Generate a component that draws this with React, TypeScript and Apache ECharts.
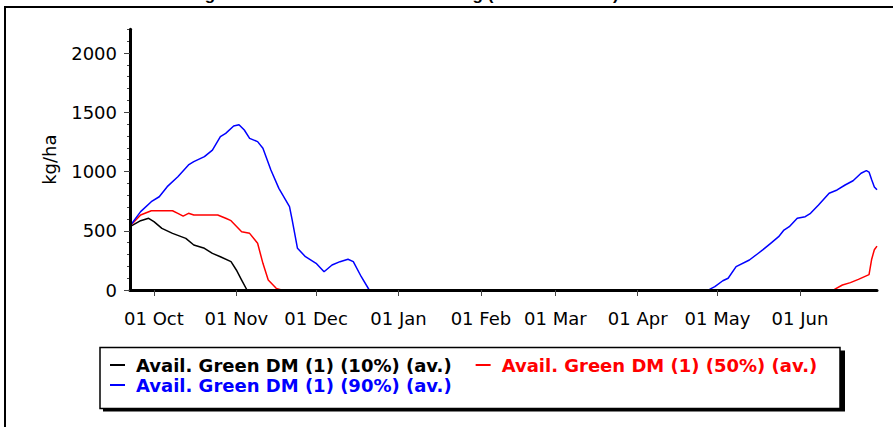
import React, { useEffect, useRef } from "react";
import * as echarts from "echarts";

// Season runs 22 Sep 2001 -> 30 Jun 2002
const SEASON_START = Date.UTC(2001, 8, 22);
function dayOf(md: string): number {
  const [m, d] = md.split("-").map(Number);
  const y = m >= 9 ? 2001 : 2002;
  return (Date.UTC(y, m - 1, d) - SEASON_START) / 86400000;
}

const titleText = "Average Green DM Available for Grazing (Selected Years)";
const yAxisName = "kg/ha";

const monthTickDates = ["10-01", "11-01", "12-01", "01-01", "02-01", "03-01", "04-01", "05-01", "06-01"];
const monthTickLabels = ["01 Oct", "01 Nov", "01 Dec", "01 Jan", "01 Feb", "01 Mar", "01 Apr", "01 May", "01 Jun"];
const yLabelValues = [0, 500, 1000, 1500, 2000];

const seriesNames = [
  "Avail. Green DM (1) (10%) (av.)",
  "Avail. Green DM (1) (50%) (av.)",
  "Avail. Green DM (1) (90%) (av.)",
];
const seriesColors = ["#000000", "#ff0000", "#0000ff"];

// 10% percentile
const p10Dates = ["09-22", "09-26", "09-29", "10-01", "10-04", "10-08", "10-13", "10-16", "10-20", "10-23", "10-26", "10-30", "11-01", "11-03", "11-05", "06-30"];
const p10Values = [534, 585, 605, 577, 520, 478, 436, 380, 352, 309, 281, 239, 169, 84, 0, 0];

// 50% percentile
const p50Dates = ["09-22", "09-26", "09-30", "10-08", "10-10", "10-12", "10-14", "10-16", "10-25", "10-28", "10-30", "11-03", "11-06", "11-09", "11-11", "11-13", "11-16", "11-18", "06-13", "06-14", "06-17", "06-20", "06-23", "06-27", "06-28", "06-29", "06-30"];
const p50Values = [540, 633, 669, 669, 647, 624, 647, 633, 633, 605, 585, 492, 478, 394, 225, 84, 14, 0, 0, 5, 42, 62, 90, 130, 260, 340, 370];

// 90% percentile
const p90Dates = ["09-22", "09-26", "09-30", "10-03", "10-06", "10-10", "10-14", "10-16", "10-20", "10-23", "10-26", "10-28", "10-31", "11-02", "11-04", "11-06", "11-09", "11-11", "11-14", "11-17", "11-21", "11-22", "11-24", "11-27", "12-01", "12-04", "12-07", "12-10", "12-13", "12-15", "12-18", "12-21", "04-27", "04-28", "04-30", "05-03", "05-05", "05-08", "05-13", "05-16", "05-18", "05-21", "05-24", "05-26", "05-28", "05-31", "06-03", "06-05", "06-08", "06-12", "06-15", "06-18", "06-21", "06-24", "06-26", "06-27", "06-28", "06-29", "06-30"];
const p90Values = [540, 661, 745, 787, 872, 956, 1055, 1083, 1125, 1181, 1294, 1322, 1384, 1395, 1350, 1280, 1252, 1196, 1013, 858, 703, 591, 352, 281, 225, 154, 211, 239, 259, 239, 112, 0, 0, 5, 28, 78, 99, 197, 253, 304, 338, 394, 450, 506, 534, 605, 619, 647, 717, 816, 844, 886, 922, 985, 1007, 995, 930, 870, 845];

function pairs(dates: string[], values: number[]) {
  return dates.map((d, i) => [dayOf(d), values[i]]);
}

const FONT = "DejaVu Sans";

export default function App() {
  const ref = useRef<HTMLDivElement>(null);
  useEffect(() => {
    if (!ref.current) return;
    const chart = echarts.init(ref.current, null, { renderer: "svg" });
    const tickDays = monthTickDates.map(dayOf);
    const seriesData = [pairs(p10Dates, p10Values), pairs(p50Dates, p50Values), pairs(p90Dates, p90Values)];
    chart.setOption({
      animation: false,
      backgroundColor: "#ffffff",
      grid: { left: 130, right: 16, top: 29.3, bottom: 137 },
      xAxis: {
        type: "value",
        min: 0,
        max: dayOf("06-30"),
        z: 10,
        axisLine: { lineStyle: { color: "#000", width: 3 } },
        axisTick: { customValues: tickDays, length: 6, lineStyle: { color: "#444", width: 1 } },
        axisLabel: {
          customValues: tickDays,
          formatter: (v: number) => {
            const i = tickDays.findIndex((t) => Math.abs(t - v) < 0.01);
            return i >= 0 ? monthTickLabels[i] : "";
          },
          fontFamily: FONT,
          fontSize: 18,
          color: "#000",
          margin: 19,
        },
        splitLine: { show: false },
      },
      yAxis: [
        {
          type: "value",
          position: "left",
          min: 0,
          max: 2200,
          z: 10,
          name: yAxisName,
          nameLocation: "middle",
          nameGap: 72,
          nameTextStyle: { fontFamily: FONT, fontSize: 18, color: "#000" },
          axisLine: { show: true, lineStyle: { color: "#000", width: 3 } },
          axisTick: { customValues: yLabelValues, length: 6, lineStyle: { color: "#444", width: 1 } },
          axisLabel: {
            customValues: yLabelValues,
            formatter: (v: number) => String(v),
            fontFamily: FONT,
            fontSize: 18,
            color: "#000",
            margin: 13,
          },
          splitLine: { show: false },
        },
        {
          type: "value",
          position: "left",
          min: 0,
          max: 2200,
          interval: 100,
          z: 9,
          axisLine: { show: false },
          axisTick: { show: true, length: 3, lineStyle: { color: "#444", width: 1 } },
          axisLabel: { show: false },
          splitLine: { show: false },
        },
      ],
      legend: {
        left: 110,
        top: 356,
        padding: 0,
        width: 740,
        itemWidth: 15,
        itemHeight: 2,
        itemGap: 2,
        icon: "rect",
        textStyle: { fontFamily: FONT, fontWeight: "bold", fontSize: 18, lineHeight: 18, padding: [0, 22, 0, 6] },
        data: seriesNames.map((n, i) => ({ name: n, textStyle: { color: seriesColors[i] } })),
      },
      graphic: [
        { type: "line", z: 0, shape: { x1: 4, y1: 7, x2: 893, y2: 7 }, style: { stroke: "#000", lineWidth: 2 } },
        { type: "line", z: 0, shape: { x1: 5, y1: 7, x2: 5, y2: 427 }, style: { stroke: "#000", lineWidth: 2 } },
        { type: "rect", z: 0, shape: { x: 103, y: 350.5, width: 742, height: 61 }, style: { fill: "#000" } },
        { type: "rect", z: 1, shape: { x: 100, y: 347.5, width: 740, height: 61 }, style: { fill: "#fff", stroke: "#000", lineWidth: 1.5 } },
        {
          type: "text",
          z: 1,
          x: 158,
          y: -14,
          style: { text: titleText, font: 'bold 17px "Liberation Sans"', fill: "#000", verticalAlign: "top" },
        },
      ],
      series: seriesNames.map((n, i) => ({
        name: n,
        type: "line",
        yAxisIndex: 0,
        symbol: "none",
        color: seriesColors[i],
        lineStyle: { color: seriesColors[i], width: 1.5 },
        data: seriesData[i],
        z: 2,
      })),
    });
    return () => chart.dispose();
  }, []);
  return <div ref={ref} style={{ position: "fixed", left: 0, top: 0, width: 893, height: 427 }} />;
}
